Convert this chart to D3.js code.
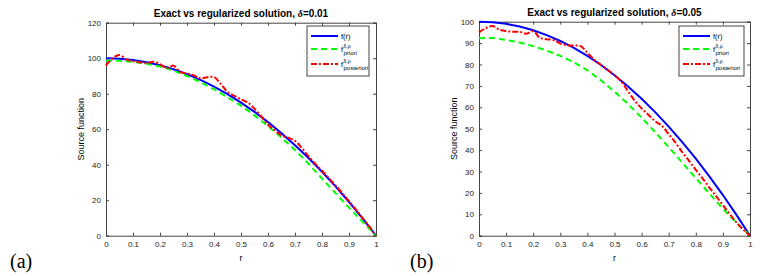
<!DOCTYPE html>
<html>
<head>
<meta charset="utf-8">
<style>
  body { margin: 0; background: #fff; }
  svg { display: block; font-family: "Liberation Sans", Arial, Helvetica, sans-serif; }
  .tick text { font-size: 8px; fill: #222; }
  .ttl { font-size: 10px; font-weight: bold; }
  .lbl { font-size: 9px; }
  .lab { font-family: "Liberation Serif", "Times New Roman", serif; font-size: 20px; }
  .leg { font-size: 7.5px; }
</style>
<script src="https://cdn.jsdelivr.net/npm/d3@7"></script>
</head>
<body>
<svg id="chart" width="781" height="276"></svg>
<script>
// grids
var rCoarse = [0, 0.05, 0.1, 0.15, 0.2, 0.25, 0.3, 0.35, 0.4, 0.45, 0.5, 0.55, 0.6, 0.65, 0.7, 0.75, 0.8, 0.85, 0.9, 0.95, 1];
var rFine = [0, 0.025, 0.05, 0.075, 0.1, 0.125, 0.15, 0.175, 0.2, 0.225, 0.25, 0.275, 0.3, 0.325, 0.35, 0.375, 0.4,
  0.425, 0.45, 0.475, 0.5, 0.525, 0.55, 0.575, 0.6, 0.625, 0.65, 0.675, 0.7, 0.725, 0.75, 0.775, 0.8, 0.825, 0.85,
  0.875, 0.9, 0.925, 0.95, 0.975, 1];

// exact source f(r), same in both panels
var exactF = [100, 99.75, 99, 97.75, 96, 93.75, 91, 87.75, 84, 79.75, 75, 69.75, 64, 57.75, 51, 43.75, 36, 27.75, 19, 9.75, 0];

// panel (a), delta = 0.01
var prioriA = [98.5, 98.6, 98, 96.9, 95.3, 93, 90, 86.5, 82.5, 78, 73.3, 67.8, 61.8, 55.3, 48.3, 40.5, 32.2, 24, 15.8, 7.8, 0];
var posteriorA = [96, 100, 101.8, 99.3, 98.3, 97.7, 97.2, 98, 96.6, 94.5, 95.8, 92.2, 91.5, 90.3, 88.6, 89.3, 89.4,
  85.5, 81, 78.8, 76.8, 75, 71.5, 67.2, 62.5, 59.5, 56.5, 55.2, 53.5, 49.5, 44.8, 40.6, 36.6, 32.5, 28.3,
  24, 19.5, 14.8, 10, 5.2, 0];

// panel (b), delta = 0.05
var prioriB = [92.3, 92.4, 91.5, 90.3, 88.6, 86.5, 84, 81, 77.3, 72.6, 67.3, 61.5, 55.2, 48.4, 41.4, 34.2, 26.9, 19.7, 12.6, 6, 0];
var posteriorB = [95, 97, 98, 96.3, 95.6, 95.3, 95.3, 94.4, 95.5, 92.5, 91.8, 91.4, 89.8, 89, 88.9, 88.6, 85.5,
  82.2, 79.8, 77.5, 75, 72, 67.5, 63, 59.5, 56.5, 53.5, 51.3, 47.5, 43.5, 39, 35, 30.8, 26.8, 22.5,
  18.5, 14.3, 10.2, 6.2, 2.8, 0];

var xTicks = [0, 0.1, 0.2, 0.3, 0.4, 0.5, 0.6, 0.7, 0.8, 0.9, 1];
var yTicksA = [0, 20, 40, 60, 80, 100, 120];
var yTicksB = [0, 10, 20, 30, 40, 50, 60, 70, 80, 90, 100];

var svg = d3.select("#chart");

function panel(opt) {
  var x = d3.scaleLinear().domain([0, 1]).range([opt.left, opt.right]);
  var y = d3.scaleLinear().domain([0, opt.ymax]).range([opt.bottom, opt.top]);
  var g = svg.append("g");

  // axes, matlab box style with inner ticks
  var fmt = function(d) { return d; };
  g.append("g").attr("transform", "translate(0," + opt.bottom + ")")
    .call(d3.axisBottom(x).tickValues(xTicks).tickSize(-3).tickPadding(6).tickFormat(fmt));
  g.append("g").attr("transform", "translate(0," + opt.top + ")")
    .call(d3.axisTop(x).tickValues(xTicks).tickSize(-3).tickFormat(""));
  g.append("g").attr("transform", "translate(" + opt.left + ",0)")
    .call(d3.axisLeft(y).tickValues(opt.yTicks).tickSize(-3).tickPadding(5).tickFormat(fmt));
  g.append("g").attr("transform", "translate(" + opt.right + ",0)")
    .call(d3.axisRight(y).tickValues(opt.yTicks).tickSize(-3).tickFormat(""));
  g.selectAll(".domain").attr("stroke", "#444");
  g.selectAll(".tick line").attr("stroke", "#444");

  var line = d3.line().x(function(d) { return x(d[0]); }).y(function(d) { return y(d[1]); });

  g.append("path").datum(d3.zip(rCoarse, exactF)).attr("d", line)
    .attr("fill", "none").attr("stroke", "#0000ff").attr("stroke-width", 2);
  g.append("path").datum(d3.zip(rCoarse, opt.priori)).attr("d", line)
    .attr("fill", "none").attr("stroke", "#00ff00").attr("stroke-width", 2).attr("stroke-dasharray", "6,4");
  g.append("path").datum(d3.zip(rFine, opt.posterior)).attr("d", d3.line().curve(d3.curveCatmullRom)
      .x(function(d) { return x(d[0]); }).y(function(d) { return y(d[1]); }))
    .attr("fill", "none").attr("stroke", "#ff0000").attr("stroke-width", 2).attr("stroke-dasharray", "6,2,2,2");

  // labels
  g.append("text").attr("class", "ttl").attr("x", (opt.left + opt.right) / 2).attr("y", opt.top - 6)
    .attr("text-anchor", "middle")
    .text("Exact vs regularized solution, ")
    .append("tspan").attr("font-family", "Liberation Serif, serif").attr("font-style", "italic").text("δ")
    .select(function() { return this.parentNode; })
    .append("tspan").text("=" + opt.delta);
  g.append("text").attr("class", "lbl").attr("x", (opt.left + opt.right) / 2).attr("y", 261)
    .attr("text-anchor", "middle").text("r");
  g.append("text").attr("class", "lbl")
    .attr("transform", "translate(" + (opt.left - 22) + "," + ((opt.top + opt.bottom) / 2) + ")rotate(-90)")
    .attr("text-anchor", "middle").text("Source function");
  g.append("text").attr("class", "lab").attr("x", opt.tagX).attr("y", 268).text(opt.tag);

  // legend
  var lx = opt.legX, ly = 26;
  g.append("rect").attr("x", lx).attr("y", ly).attr("width", opt.legW).attr("height", 50)
    .attr("fill", "#fff").attr("stroke", "#444").attr("stroke-width", 1);
  var rows = [
    { y: ly + 10, color: "#0000ff", dash: null, sub: null },
    { y: ly + 23, color: "#00ff00", dash: "6,4", sub: "priori" },
    { y: ly + 38, color: "#ff0000", dash: "6,2,2,2", sub: "posteriori" }
  ];
  rows.forEach(function(row) {
    g.append("line").attr("x1", lx + 4).attr("x2", lx + 31).attr("y1", row.y).attr("y2", row.y)
      .attr("stroke", row.color).attr("stroke-width", 2).attr("stroke-dasharray", row.dash);
    var t = g.append("text").attr("class", "leg").attr("x", lx + 34).attr("y", row.y + 2.5);
    if (!row.sub) {
      t.text("f(r)");
    } else {
      t.append("tspan").text("f");
      t.append("tspan").attr("x", lx + 36.5).attr("dy", -3.5).attr("font-size", 5).text("δ,μ");
      t.append("tspan").attr("x", lx + 36.5).attr("dy", 6.5).attr("font-size", 6).text(row.sub);
    }
  });
}

panel({ left: 106, right: 376, top: 22.7, bottom: 235.7, ymax: 120, yTicks: yTicksA,
  priori: prioriA, posterior: posteriorA, delta: "0.01", tag: "(a)", tagX: 10, legX: 307, legW: 62 });
panel({ left: 479, right: 750, top: 21.7, bottom: 235.7, ymax: 100, yTicks: yTicksB,
  priori: prioriB, posterior: posteriorB, delta: "0.05", tag: "(b)", tagX: 410, legX: 679, legW: 65 });
</script>
</body>
</html>
